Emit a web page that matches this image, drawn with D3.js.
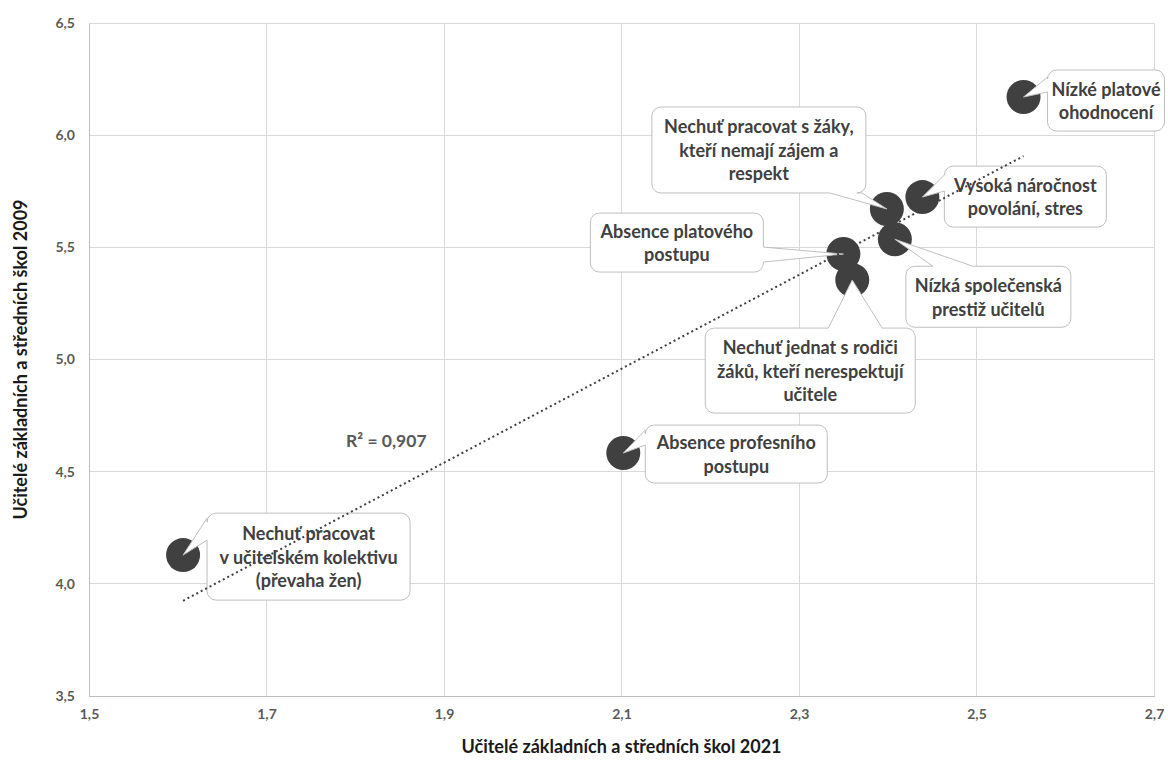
<!DOCTYPE html>
<html>
<head>
<meta charset="utf-8">
<script src="https://cdn.jsdelivr.net/npm/d3@7"></script>
<style>
  html, body { margin: 0; padding: 0; background: #fff; }
  svg { display: block; font-family: Lato, "Open Sans", sans-serif; }
</style>
</head>
<body>
<svg id="chart" width="1168" height="760"></svg>
<script>
// ---------- data ----------
const categories = [
  "Nízké platové ohodnocení",
  "Nechuť pracovat s žáky, kteří nemají zájem a respekt",
  "Vysoká náročnost povolání, stres",
  "Nízká společenská prestiž učitelů",
  "Absence platového postupu",
  "Nechuť jednat s rodiči žáků, kteří nerespektují učitele",
  "Absence profesního postupu",
  "Nechuť pracovat v učitelském kolektivu (převaha žen)"
];
const labelLines = [
  ["Nízké platové", "ohodnocení"],
  ["Nechuť pracovat s žáky,", "kteří nemají zájem a", "respekt"],
  ["Vysoká náročnost", "povolání, stres"],
  ["Nízká společenská", "prestiž učitelů"],
  ["Absence platového", "postupu"],
  ["Nechuť jednat s rodiči", "žáků, kteří nerespektují", "učitele"],
  ["Absence profesního", "postupu"],
  ["Nechuť pracovat", "v učitelském kolektivu", "(převaha žen)"]
];
const values2021 = [2.553, 2.399, 2.439, 2.408, 2.350, 2.360, 2.102, 1.606];
const values2009 = [6.170, 5.671, 5.724, 5.536, 5.470, 5.354, 4.583, 4.128];

const xTicks = [1.5, 1.7, 1.9, 2.1, 2.3, 2.5, 2.7];
const xTickLabels = ["1,5", "1,7", "1,9", "2,1", "2,3", "2,5", "2,7"];
const yTicks = [3.5, 4.0, 4.5, 5.0, 5.5, 6.0, 6.5];
const yTickLabels = ["3,5", "4,0", "4,5", "5,0", "5,5", "6,0", "6,5"];

const xTitle = "Učitelé základních a středních škol 2021";
const yTitle = "Učitelé základních a středních škol 2009";
const r2Label = "R² = 0,907";
const r2Pos = [1.835, 4.641];

// callout layout (pixel offsets relative to each point): dx, dy, w, h, side, b1, b2
const calloutLayout = [
  [24, -27, 117, 61, "left", -20, -5],
  [-235, -102, 214, 86, "bottom", -57, -25],
  [22, -31, 162, 61, "left", -22, -6],
  [11, 27, 165, 61, "top", 38, 78],
  [-253, -41, 173, 59, "right", -7, 8],
  [-147, 48, 210, 85, "top", -24, 30],
  [22, -28, 182, 58, "left", -23, -8],
  [24, -42, 203, 87, "left", -37, -15]
];

// ---------- setup ----------
const W = 1168, H = 760;
const margin = { top: 23, right: 14, bottom: 64, left: 89 };
const svg = d3.select("#chart");

const x = d3.scaleLinear().domain([1.5, 2.7]).range([margin.left, W - margin.right]);
const y = d3.scaleLinear().domain([3.5, 6.5]).range([H - margin.bottom, margin.top]);

const gridColor = "#d9d9d9";
const tickColor = "#595959";
const darkText = "#404040";

// gridlines
svg.append("g").selectAll("line.v").data(xTicks.slice(1)).join("line")
  .attr("x1", d => x(d)).attr("x2", d => x(d))
  .attr("y1", y(3.5)).attr("y2", y(6.5))
  .attr("stroke", gridColor).attr("stroke-width", 1).attr("shape-rendering", "crispEdges");
svg.append("g").selectAll("line.h").data(yTicks.slice(1)).join("line")
  .attr("x1", x(1.5)).attr("x2", x(2.7))
  .attr("y1", d => y(d)).attr("y2", d => y(d))
  .attr("stroke", gridColor).attr("stroke-width", 1).attr("shape-rendering", "crispEdges");

// axes
const xAxis = d3.axisBottom(x).tickValues(xTicks)
  .tickFormat((d, i) => xTickLabels[i]).tickSize(0).tickPadding(13);
const yAxis = d3.axisLeft(y).tickValues(yTicks)
  .tickFormat((d, i) => yTickLabels[i]).tickSize(0).tickPadding(14);

const gx = svg.append("g").attr("transform", `translate(0,${y(3.5)})`).call(xAxis);
const gy = svg.append("g").attr("transform", `translate(${x(1.5)},0)`).call(yAxis);
[gx, gy].forEach(g => {
  g.select(".domain").attr("stroke", "#bfbfbf").attr("stroke-width", 1).attr("shape-rendering", "crispEdges");
  g.selectAll("text").attr("fill", tickColor).attr("font-size", 14).attr("font-weight", 700)
    .attr("font-family", "Lato, sans-serif");
});

// axis titles
svg.append("text")
  .attr("x", (x(1.5) + x(2.7)) / 2).attr("y", 746)
  .attr("text-anchor", "middle").attr("dominant-baseline", "central")
  .attr("font-size", 18).attr("font-weight", 700).attr("fill", "#1a1a1a")
  .text(xTitle);
svg.append("text")
  .attr("transform", `translate(20,${(y(3.5) + y(6.5)) / 2}) rotate(-90)`)
  .attr("text-anchor", "middle").attr("dominant-baseline", "central")
  .attr("font-size", 18).attr("font-weight", 700).attr("fill", "#1a1a1a")
  .text(yTitle);

// ---------- points ----------
const pts = categories.map((c, i) => ({
  name: c, lines: labelLines[i],
  px: x(values2021[i]), py: y(values2009[i]), layout: calloutLayout[i]
}));

svg.append("g").selectAll("circle").data(pts).join("circle")
  .attr("cx", d => d.px).attr("cy", d => d.py).attr("r", 17)
  .attr("fill", "#404040");

// ---------- callouts ----------
function calloutPath(p) {
  const [dx, dy, w, h, side, b1, b2] = p.layout;
  const bx = p.px + dx, by = p.py + dy, r = 9;
  const ax = p.px, ay = p.py;
  let s = `M${bx + r},${by}`;
  if (side === "top") s += `L${ax + b1},${by}L${ax},${ay}L${ax + b2},${by}`;
  s += `L${bx + w - r},${by}A${r},${r} 0 0 1 ${bx + w},${by + r}`;
  if (side === "right") s += `L${bx + w},${ay + b1}L${ax},${ay}L${bx + w},${ay + b2}`;
  s += `L${bx + w},${by + h - r}A${r},${r} 0 0 1 ${bx + w - r},${by + h}`;
  if (side === "bottom") s += `L${ax + b2},${by + h}L${ax},${ay}L${ax + b1},${by + h}`;
  s += `L${bx + r},${by + h}A${r},${r} 0 0 1 ${bx},${by + h - r}`;
  if (side === "left") s += `L${bx},${ay + b2}L${ax},${ay}L${bx},${ay + b1}`;
  s += `L${bx},${by + r}A${r},${r} 0 0 1 ${bx + r},${by}Z`;
  return s;
}

const callouts = svg.append("g").selectAll("g").data(pts).join("g");
callouts.append("path")
  .attr("d", calloutPath)
  .attr("fill", "#fff").attr("stroke", "#bfbfbf").attr("stroke-width", 1);
callouts.each(function (d) {
  const [dx, dy, w, h] = d.layout;
  const cx = d.px + dx + w / 2, cy = d.py + dy + h / 2;
  const n = d.lines.length, lh = 23.5;
  d3.select(this).selectAll("text").data(d.lines).join("text")
    .attr("x", cx)
    .attr("y", (t, i) => cy + (i - (n - 1) / 2) * lh)
    .attr("text-anchor", "middle").attr("dominant-baseline", "central")
    .attr("font-size", 18).attr("font-weight", 700).attr("fill", darkText)
    .text(t => t);
});

// ---------- trendline (least squares) ----------
const mx = d3.mean(values2021), my = d3.mean(values2009);
const sxy = d3.sum(values2021, (v, i) => (v - mx) * (values2009[i] - my));
const sxx = d3.sum(values2021, v => (v - mx) * (v - mx));
const slope = sxy / sxx, icpt = my - slope * mx;
const [xmin, xmax] = d3.extent(values2021);
svg.append("line")
  .attr("x1", x(xmin)).attr("y1", y(icpt + slope * xmin))
  .attr("x2", x(xmax)).attr("y2", y(icpt + slope * xmax))
  .attr("stroke", "#404040").attr("stroke-width", 2)
  .attr("stroke-dasharray", "2 3");

svg.append("text")
  .attr("x", x(r2Pos[0])).attr("y", y(r2Pos[1]))
  .attr("text-anchor", "middle").attr("dominant-baseline", "central")
  .attr("font-size", 17.5).attr("font-weight", 700).attr("fill", "#595959")
  .text(r2Label);
</script>
</body>
</html>
